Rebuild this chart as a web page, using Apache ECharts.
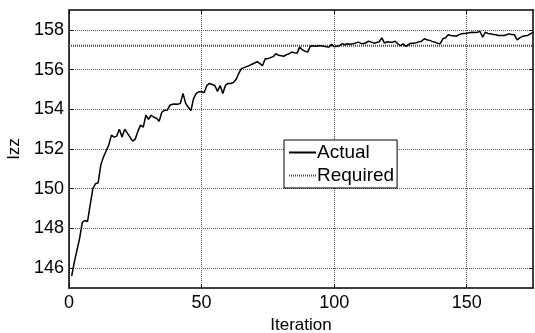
<!DOCTYPE html>
<html>
<head>
<meta charset="utf-8">
<script src="https://cdn.jsdelivr.net/npm/echarts@6/dist/echarts.min.js"></script>
<style>html,body{margin:0;padding:0;background:#fff}#c{width:535px;height:333px}</style>
</head>
<body>
<div id="c"></div>
<script>
var iterations = [];
for (var i = 1; i <= 175; i++) iterations.push(i);
var actual = [
145.6,146.3,146.9,147.5,148.3,148.4,148.35,149.2,150.0,150.25,
150.3,151.2,151.6,151.9,152.2,152.7,152.6,152.65,153.0,152.6,
153.0,152.8,152.6,152.4,152.5,152.9,153.2,153.1,153.7,153.5,
153.7,153.6,153.55,153.4,153.85,153.95,153.95,154.2,154.25,154.27,
154.25,154.3,154.8,154.3,154.1,153.93,154.55,154.8,154.88,154.88,
154.85,155.2,155.3,155.25,155.2,154.9,155.2,154.8,155.2,155.3,
155.3,155.35,155.5,155.8,156.05,156.1,156.15,156.2,156.27,156.33,
156.4,156.3,156.2,156.55,156.55,156.6,156.65,156.8,156.72,156.7,
156.67,156.75,156.8,156.88,156.85,156.83,157.13,157.0,156.93,156.88,
157.17,157.2,157.18,157.2,157.2,157.18,157.15,157.13,157.27,157.15,
157.18,157.2,157.3,157.25,157.3,157.28,157.3,157.33,157.38,157.33,
157.3,157.35,157.43,157.38,157.33,157.36,157.4,157.6,157.33,157.4,
157.38,157.38,157.43,157.3,157.2,157.3,157.17,157.25,157.33,157.33,
157.35,157.4,157.43,157.55,157.5,157.47,157.42,157.38,157.33,157.3,
157.55,157.6,157.75,157.72,157.7,157.68,157.75,157.8,157.82,157.83,
157.86,157.88,157.87,157.88,157.93,157.63,157.88,157.82,157.8,157.76,
157.75,157.72,157.72,157.72,157.75,157.8,157.76,157.75,157.5,157.6,
157.67,157.7,157.72,157.8,157.87
];
var required = 157.2;
var xTicks = [0, 50, 100, 150];
var yTicks = [146, 148, 150, 152, 154, 156, 158];
var seriesNames = ['Actual', 'Required'];

var font = 'Liberation Sans, Arial, sans-serif';
var actualData = iterations.map(function (it, k) { return [it, actual[k]]; });
var requiredData = [[0, required], [175, required]];

var gridLine = { show: true, lineStyle: { color: '#555', type: [1, 1], width: 1 } };
var tickStyle = { show: true, inside: true, length: 4, lineStyle: { color: '#000' } };
var chart = echarts.init(document.getElementById('c'));
chart.setOption({
  animation: false,
  backgroundColor: '#fff',
  grid: { left: 69, top: 10, right: 2, bottom: 45, containLabel: false, outerBoundsMode: 'none' },
  legend: {
    orient: 'vertical', left: 284, top: 140,
    data: seriesNames.map(function (n) { return { name: n, itemStyle: { opacity: 0 } }; }),
    backgroundColor: '#fff', borderColor: '#000', borderWidth: 1,
    padding: [3, 3, 3, 4], itemGap: 4, itemWidth: 27, itemHeight: 14,
    textStyle: { fontFamily: font, fontSize: 19, color: '#000', padding: [0, 0, 0, -4] }
  },
  xAxis: [{
    type: 'value', min: 0, max: 175, interval: 50,
    name: 'Iteration', nameLocation: 'middle', nameGap: 28,
    nameTextStyle: { fontFamily: font, fontSize: 17, color: '#000' },
    axisLine: { show: true, lineStyle: { color: '#000', width: 1.5 } },
    axisTick: Object.assign({ customValues: xTicks }, tickStyle),
    axisLabel: { fontFamily: font, fontSize: 18, color: '#000', margin: 6, customValues: xTicks },
    splitLine: gridLine
  }, {
    type: 'value', min: 0, max: 175, interval: 50, position: 'top',
    axisLine: { show: true, onZero: false, lineStyle: { color: '#000', width: 1.5 } },
    axisTick: Object.assign({ customValues: xTicks }, tickStyle),
    axisLabel: { show: false }, splitLine: { show: false }
  }],
  yAxis: [{
    type: 'value', min: 145, max: 159,
    name: 'Izz', nameLocation: 'middle', nameGap: 46,
    nameTextStyle: { fontFamily: font, fontSize: 17, color: '#000' },
    axisLine: { show: true, lineStyle: { color: '#000', width: 1.5 } },
    axisTick: Object.assign({ customValues: yTicks }, tickStyle),
    axisLabel: { fontFamily: font, fontSize: 18, color: '#000', margin: 5, customValues: yTicks },
    splitLine: gridLine
  }, {
    type: 'value', min: 145, max: 159, position: 'right',
    axisLine: { show: true, onZero: false, lineStyle: { color: '#000', width: 1.5 } },
    axisTick: Object.assign({ customValues: yTicks }, tickStyle),
    axisLabel: { show: false }, splitLine: { show: false }
  }],
  series: [{
    name: 'Actual', type: 'line', data: actualData, showSymbol: false, symbol: 'none',
    lineStyle: { color: '#000', width: 1.5 }, itemStyle: { color: '#000' }, z: 3
  }, {
    name: 'Required', type: 'line', data: requiredData, showSymbol: false, symbol: 'none',
    lineStyle: { color: '#444', width: 2, type: [1, 1] }, itemStyle: { color: '#444' }, z: 2
  }]
});
</script>
</body>
</html>
